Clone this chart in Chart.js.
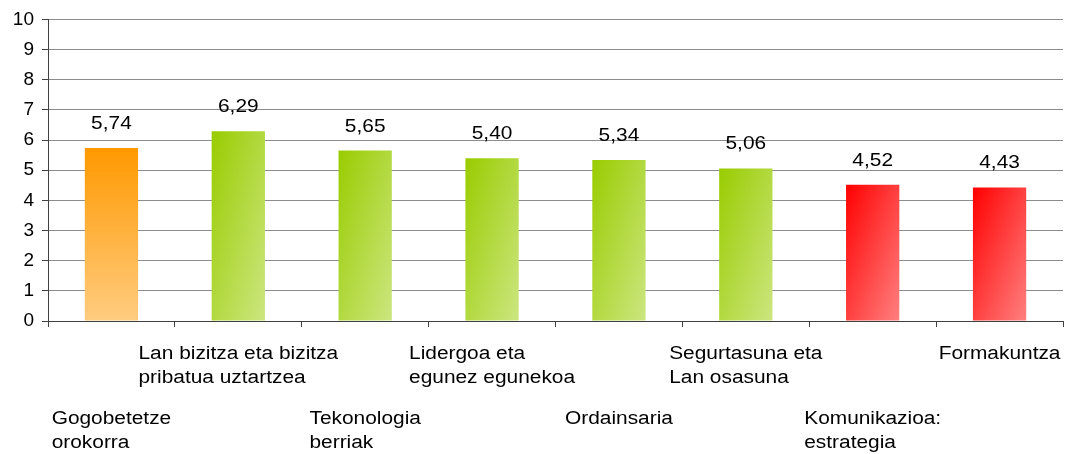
<!DOCTYPE html>
<html>
<head>
<meta charset="utf-8">
<script src="https://cdn.jsdelivr.net/npm/chart.js@4.4.0/dist/chart.umd.min.js"></script>
<style>
  html, body { margin: 0; padding: 0; background: #fff; }
  #wrap { width: 1068px; height: 454px; }
</style>
</head>
<body>
<div id="wrap"><canvas id="grafikoa"></canvas></div>
<script>
// kategoriak (lerroka banatuta)
const kategoriak = [
  ['Gogobetetze', 'orokorra'],
  ['Lan bizitza eta bizitza', 'pribatua uztartzea'],
  ['Tekonologia', 'berriak'],
  ['Lidergoa eta', 'egunez egunekoa'],
  ['Ordainsaria'],
  ['Segurtasuna eta', 'Lan osasuna'],
  ['Komunikazioa:', 'estrategia'],
  ['Formakuntza']
];
const balioak = [5.74, 6.29, 5.65, 5.40, 5.34, 5.06, 4.52, 4.43];
const yTikak = [0, 1, 2, 3, 4, 5, 6, 7, 8, 9, 10];

const letra = "'Liberation Sans', Arial, sans-serif";
const zabaldu = 1.16; // testua horizontalki zabaltzeko

function koloreak(i, v) {
  if (i === 0) return ['#ff9900', '#ffcc80'];
  if (v >= 5) return ['#99cc00', '#cce680'];
  return ['#ff0000', '#ff8080'];
}

function barraKolorea(context) {
  const chart = context.chart;
  const i = context.dataIndex;
  const v = balioak[i];
  const xs = chart.scales.x, ys = chart.scales.y;
  if (!xs || !ys || !chart.chartArea) return '#99cc00';
  const k = koloreak(i, v);
  const zab = (xs.width / kategoriak.length) * 0.42;
  const xc = xs.getPixelForValue(i);
  const x0 = xc - zab / 2;
  const y0 = ys.getPixelForValue(v), y1 = ys.getPixelForValue(0);
  let g;
  if (i === 0) {
    g = chart.ctx.createLinearGradient(0, y0, 0, y1);
  } else {
    // 45 gradu laukiaren barruan: isolerroak diagonalaren paralelo
    const w = zab, h = y1 - y0;
    const t = 2 * w * h / (w * w + h * h);
    g = chart.ctx.createLinearGradient(x0, y0, x0 + h * t, y0 + w * t);
  }
  g.addColorStop(0, k[0]);
  g.addColorStop(1, k[1]);
  return g;
}

function testuZabala(ctx, txt, x, y) {
  ctx.save();
  ctx.translate(x, y);
  ctx.scale(zabaldu, 1);
  ctx.fillText(txt, 0, 0);
  ctx.restore();
}

const etiketak = {
  id: 'etiketak',
  afterDatasetsDraw(chart) {
    const ctx = chart.ctx;
    const meta = chart.getDatasetMeta(0);
    ctx.save();
    ctx.fillStyle = '#000';
    ctx.font = '18px ' + letra;
    ctx.textAlign = 'center';
    ctx.textBaseline = 'middle';
    meta.data.forEach((bar, i) => {
      testuZabala(ctx, balioak[i].toFixed(2).replace('.', ','), bar.x, bar.y - 24);
    });
    // kategorien izenak, txandakatuta bi errenkadatan
    const xs = chart.scales.x;
    ctx.textAlign = 'left';
    kategoriak.forEach((lerroak, i) => {
      const xc = xs.getPixelForValue(i);
      const zabalena = Math.max(...lerroak.map(l => ctx.measureText(l).width)) * zabaldu;
      const x = xc - zabalena / 2;
      const y = (i % 2 === 1) ? xs.top + 33 : xs.top + 98;
      lerroak.forEach((l, j) => testuZabala(ctx, l, x, y + j * 24));
    });
    ctx.restore();
  }
};

new Chart(document.getElementById('grafikoa'), {
  type: 'bar',
  data: {
    labels: kategoriak.map(k => k.join(' ')),
    datasets: [{
      data: balioak,
      backgroundColor: barraKolorea,
      borderWidth: 0,
      barPercentage: 0.42,
      categoryPercentage: 1
    }]
  },
  options: {
    responsive: true,
    maintainAspectRatio: false,
    animation: false,
    devicePixelRatio: 1,
    layout: { padding: { top: 19, right: 5, left: 0, bottom: 0 } },
    plugins: {
      legend: { display: false },
      tooltip: { enabled: false }
    },
    scales: {
      x: {
        grid: {
          offset: true,
          drawOnChartArea: false,
          drawTicks: true,
          tickLength: 6,
          tickColor: '#404040'
        },
        border: { color: '#404040', width: 1 },
        ticks: { display: false },
        afterFit(scale) { scale.height = 133; }
      },
      y: {
        min: 0,
        max: 10,
        afterBuildTicks(scale) { scale.ticks = yTikak.map(v => ({ value: v })); },
        grid: {
          color: '#8c8c8c',
          tickColor: '#404040',
          tickLength: 6
        },
        border: { color: '#404040', width: 1 },
        ticks: {
          color: '#000',
          padding: 8,
          font: { family: letra, size: 19 }
        },
        afterFit(scale) { scale.width = 48; }
      }
    }
  },
  plugins: [etiketak]
});
</script>
</body>
</html>
